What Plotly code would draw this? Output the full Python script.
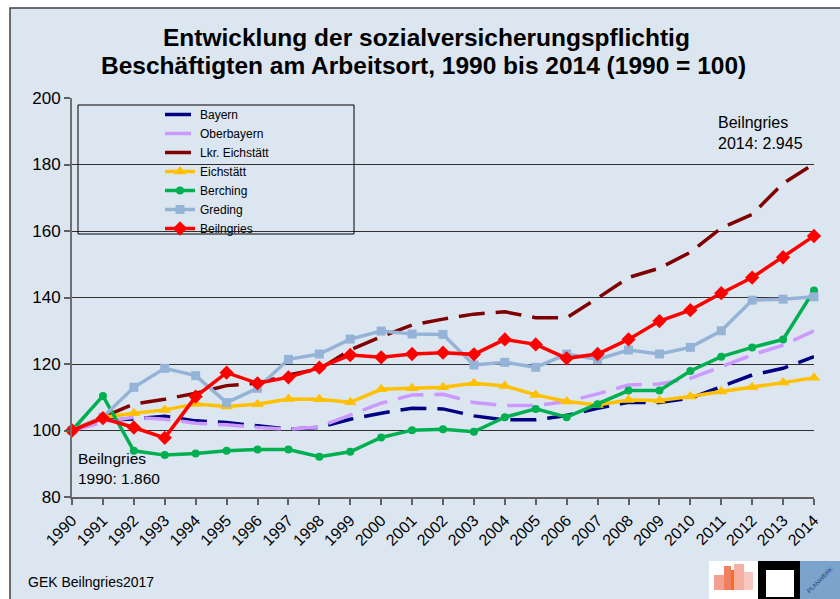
import plotly.graph_objects as go

years = ["1990", "1991", "1992", "1993", "1994", "1995", "1996", "1997", "1998", "1999",
         "2000", "2001", "2002", "2003", "2004", "2005", "2006", "2007", "2008", "2009",
         "2010", "2011", "2012", "2013", "2014"]

bayern = [100, 103, 103.5, 104.3, 102.9, 102.4, 101.4, 100.4, 100.9, 103.4, 105.2, 106.7, 106.5,
          104.4, 103.2, 103.2, 104.5, 106.7, 108.5, 108.4, 109.7, 113.2, 116.7, 118.7, 122.2]
oberbayern = [100, 102.5, 104, 103.4, 102.2, 101.7, 100.9, 100.4, 101.1, 104.7, 108.2, 110.7, 110.9,
              108.4, 107.5, 107.5, 108.7, 111.0, 113.7, 114.0, 115.7, 119.2, 122.7, 125.7, 130.0]
lkr_eichstaett = [100, 104, 108, 109.4, 111.2, 113.5, 114.2, 116.7, 118.5, 124.2, 128.2, 131.7, 133.5,
                  135.0, 135.7, 133.9, 133.9, 139.8, 146.0, 148.8, 153.6, 160.9, 165.0, 174.3, 180.2]
eichstaett = [100, 104, 105.2, 106.2, 108.0, 107.2, 107.9, 109.5, 109.4, 108.5, 112.4, 112.7, 113.0,
              114.2, 113.4, 110.7, 108.7, 107.7, 109.2, 109.0, 110.2, 111.7, 113.0, 114.4, 115.9]
berching = [100, 110.4, 93.9, 92.6, 93.1, 93.9, 94.3, 94.3, 92.1, 93.6, 97.9, 100.1, 100.4,
            99.6, 104.0, 106.5, 104.0, 107.9, 112.0, 112.0, 117.9, 122.2, 125.0, 127.4, 142.1]
greding = [100, 104, 113.0, 118.7, 116.5, 108.4, 112.7, 121.4, 123.0, 127.5, 129.9, 129.0, 128.9,
           119.7, 120.5, 119.0, 123.0, 121.4, 124.2, 123.0, 125.0, 130.0, 139.2, 139.5, 140.2]
beilngries = [100, 103.7, 100.9, 97.8, 110.2, 117.4, 114.2, 116.0, 118.9, 122.7, 122.0, 123.0, 123.4,
              122.9, 127.4, 125.9, 121.7, 123.0, 127.4, 132.9, 136.2, 141.3, 146.0, 152.1, 158.5]

y_ticks = [80, 100, 120, 140, 160, 180, 200]

W, H = 840, 599
L, R, T, B = 72, 814, 98, 497


def px(xp):
    return (xp - L) / (R - L)


def py(yp):
    return (B - yp) / (B - T)


fig = go.Figure()

dash_style = "26px,11px"
series = [
    ("Bayern", bayern, "#000080", dash_style, None, 0),
    ("Oberbayern", oberbayern, "#CC99FF", dash_style, None, 0),
    ("Lkr. Eichstätt", lkr_eichstaett, "#800000", dash_style, None, 0),
    ("Eichstätt", eichstaett, "#FFC000", "solid", "triangle-up", 11),
    ("Berching", berching, "#00B050", "solid", "circle", 8),
    ("Greding", greding, "#95B3D7", "solid", "square", 9),
    ("Beilngries", beilngries, "#FF0000", "solid", "diamond", 11),
]

for name, vals, color, dash, sym, msize in series:
    mode = "lines+markers" if sym else "lines"
    tr = go.Scatter(x=years, y=vals, name=name, mode=mode,
                    line=dict(color=color, width=3.5, dash=dash),
                    cliponaxis=False)
    if sym:
        tr.marker = dict(symbol=sym, size=msize, color=color)
    fig.add_trace(tr)

shapes = [
    # slide frame
    dict(type="rect", xref="paper", yref="paper", x0=px(10), x1=px(860), y0=py(620), y1=py(8),
         fillcolor="#DCE6F1", line=dict(color="#404040", width=1.5), layer="below"),
    # legend frame
    dict(type="rect", xref="paper", yref="paper", x0=px(78), x1=px(354), y0=py(234), y1=py(105),
         fillcolor="rgba(0,0,0,0)", line=dict(color="#000000", width=1), layer="above"),
    # logos
    dict(type="rect", xref="paper", yref="paper", x0=px(709), x1=px(758), y0=py(605), y1=py(561),
         fillcolor="#FFFFFF", line=dict(width=0)),
    dict(type="rect", xref="paper", yref="paper", x0=px(714), x1=px(724), y0=py(590), y1=py(575),
         fillcolor="#F4A090", line=dict(width=0)),
    dict(type="rect", xref="paper", yref="paper", x0=px(724), x1=px(731), y0=py(590), y1=py(566),
         fillcolor="#F08060", line=dict(width=0)),
    dict(type="rect", xref="paper", yref="paper", x0=px(731), x1=px(734), y0=py(590), y1=py(570),
         fillcolor="#FF6A1A", line=dict(width=0)),
    dict(type="rect", xref="paper", yref="paper", x0=px(734), x1=px(744), y0=py(590), y1=py(564),
         fillcolor="#F6B0A0", line=dict(width=0)),
    dict(type="rect", xref="paper", yref="paper", x0=px(744), x1=px(753), y0=py(590), y1=py(572),
         fillcolor="#F8C8C0", line=dict(width=0)),
    dict(type="rect", xref="paper", yref="paper", x0=px(758), x1=px(800), y0=py(605), y1=py(561),
         fillcolor="#000000", line=dict(width=0)),
    dict(type="rect", xref="paper", yref="paper", x0=px(766), x1=px(794), y0=py(597), y1=py(570),
         fillcolor="#FFFFFF", line=dict(width=0)),
    dict(type="rect", xref="paper", yref="paper", x0=px(800), x1=px(845), y0=py(605), y1=py(561),
         fillcolor="#7BA3CC", line=dict(width=0)),
]

annotations = [
    dict(text="<b>Entwicklung der sozialversicherungspflichtig</b>", xref="paper", yref="paper",
         x=px(426), y=py(37), xanchor="center", yanchor="middle", showarrow=False,
         font=dict(size=24.5, color="#000000")),
    dict(text="<b>Beschäftigten am Arbeitsort, 1990 bis 2014 (1990 = 100)</b>", xref="paper", yref="paper",
         x=px(423), y=py(65), xanchor="center", yanchor="middle", showarrow=False,
         font=dict(size=24.5, color="#000000")),
    dict(text="Beilngries<br>1990: 1.860", xref="paper", yref="paper", x=px(76), y=py(448),
         xanchor="left", yanchor="top", align="left", showarrow=False,
         font=dict(size=15.5, color="#000000")),
    dict(text="Beilngries<br>2014: 2.945", xref="paper", yref="paper", x=px(716), y=py(112),
         xanchor="left", yanchor="top", align="left", showarrow=False,
         font=dict(size=16, color="#000000")),
    dict(text="GEK Beilngries2017", xref="paper", yref="paper", x=px(26), y=py(582),
         xanchor="left", yanchor="middle", showarrow=False,
         font=dict(size=14, color="#000000")),
    dict(text="PLANWERK", xref="paper", yref="paper", x=px(820), y=py(580),
         xanchor="center", yanchor="middle", showarrow=False, textangle=-45,
         font=dict(size=6, color="#1F3F6F")),
]

fig.update_layout(
    width=W, height=H,
    margin=dict(l=L, r=W - R, t=T, b=H - B, pad=0),
    paper_bgcolor="#FFFFFF",
    plot_bgcolor="rgba(0,0,0,0)",
    font=dict(family="Liberation Sans, Arial, sans-serif", size=15, color="#000000"),
    shapes=shapes,
    annotations=annotations,
    showlegend=True,
    legend=dict(x=px(160), y=py(100), xanchor="left", yanchor="top",
                bgcolor="rgba(0,0,0,0)", borderwidth=0,
                font=dict(size=12, color="#000000"), tracegroupgap=0,
                itemwidth=30),
    xaxis=dict(type="category", range=[0, 24], showgrid=False, zeroline=False,
               showline=True, linecolor="#606060", linewidth=1.5,
               ticks="outside", ticklen=6, tickcolor="#606060", tickwidth=1.5,
               tickangle=-45, tickfont=dict(size=16), mirror=False),
    yaxis=dict(range=[80, 200], tickvals=y_ticks, showgrid=True, gridcolor="#303030", gridwidth=1,
               zeroline=False, showline=True, linecolor="#707070", linewidth=2,
               ticks="outside", ticklen=6, tickcolor="#606060", tickwidth=1.5,
               tickfont=dict(size=17)),
)

fig.write_html("out.html", config={"displayModeBar": False},
               post_script="document.body.style.margin='0px';document.body.style.padding='0px';")
